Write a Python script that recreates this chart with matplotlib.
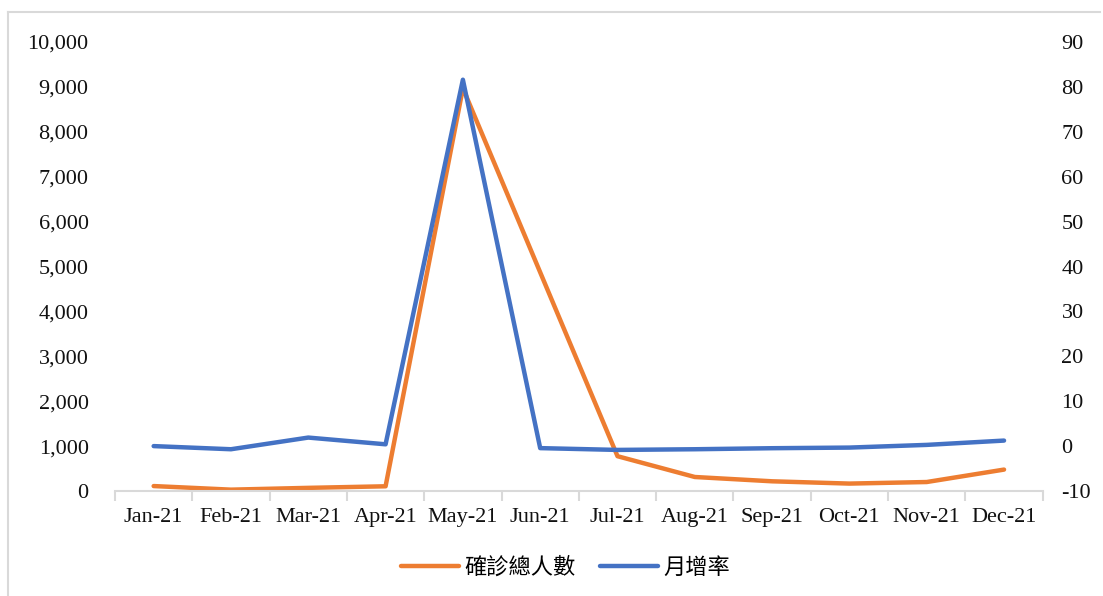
import matplotlib
matplotlib.use('Agg')
import matplotlib.pyplot as plt
from matplotlib.lines import Line2D
from matplotlib.ticker import FuncFormatter

plt.rcParams['axes.unicode_minus'] = False

months = ['Jan-21', 'Feb-21', 'Mar-21', 'Apr-21', 'May-21', 'Jun-21',
          'Jul-21', 'Aug-21', 'Sep-21', 'Oct-21', 'Nov-21', 'Dec-21']
cases = [110, 30, 70, 105, 8970, 4870, 775, 312, 216, 165, 200, 477]
growth = [0.0, -0.7, 1.9, 0.4, 81.6, -0.45, -0.85, -0.7, -0.47, -0.33, 0.27, 1.23]
series_names = ['確診總人數', '月增率']

ORANGE = '#ED7D31'
BLUE = '#4472C4'
GRAY = '#D9D9D9'
serif = 'Liberation Serif'

fig = plt.figure(figsize=(11.03, 5.96), dpi=100)
ax = fig.add_axes([115 / 1103, 1 - 491 / 596, (1042.7 - 115) / 1103, (491 - 42) / 596])
ax2 = ax.twinx()

x = list(range(len(months)))
ax.plot(x, cases, color=ORANGE, lw=3.2, solid_capstyle='round', solid_joinstyle='round')
ax2.plot(x, growth, color=BLUE, lw=3.2, solid_capstyle='round', solid_joinstyle='round')

ax.set_xlim(-0.5, 11.5)
ax.set_ylim(0, 10000)
ax2.set_ylim(-10, 90)
ax.set_yticks(range(0, 10001, 1000))
ax2.set_yticks(range(-10, 91, 10))
ax.yaxis.set_major_formatter(FuncFormatter(lambda v, p: f'{int(v):,}'))

for a in (ax, ax2):
    for s in ('top', 'left', 'right', 'bottom'):
        a.spines[s].set_visible(False)
ax.spines['bottom'].set_visible(True)
ax.spines['bottom'].set_color(GRAY)
ax.spines['bottom'].set_linewidth(1.5)

ax.set_xticks(x)
ax.set_xticklabels(months, fontfamily=serif, fontsize=16, color='#111111')
ax.set_xticks([i - 0.5 for i in range(len(months) + 1)], minor=True)
ax.tick_params(axis='x', which='major', length=0, pad=12)
ax.tick_params(axis='x', which='minor', length=7, width=1.5, color=GRAY, direction='out')
ax.tick_params(axis='y', length=0, pad=19, labelsize=16, labelcolor='#111111')
ax2.tick_params(axis='y', length=0, pad=13.5, labelsize=16, labelcolor='#111111')
for lab in ax.get_yticklabels() + ax2.get_yticklabels():
    lab.set_fontfamily(serif)

handles = [Line2D([], [], color=ORANGE, lw=3.2, solid_capstyle='round'),
           Line2D([], [], color=BLUE, lw=3.2, solid_capstyle='round')]
fig.legend(handles, series_names, loc='center', bbox_to_anchor=(566 / 1103, 1 - 567 / 596),
           ncol=2, frameon=False, handlelength=2.6, handletextpad=0.25, columnspacing=1.1,
           prop={'family': ['Noto Sans CJK TC', 'DejaVu Sans'], 'size': 16})

# outer frame
fig.add_artist(Line2D([8 / 1103, 8 / 1103], [0, 1 - 12 / 596], color=GRAY, lw=1.5,
                      transform=fig.transFigure))
fig.add_artist(Line2D([8 / 1103, 1100 / 1103], [1 - 12 / 596, 1 - 12 / 596], color=GRAY, lw=1.5,
                      transform=fig.transFigure))

fig.savefig('out.png', dpi=100)
